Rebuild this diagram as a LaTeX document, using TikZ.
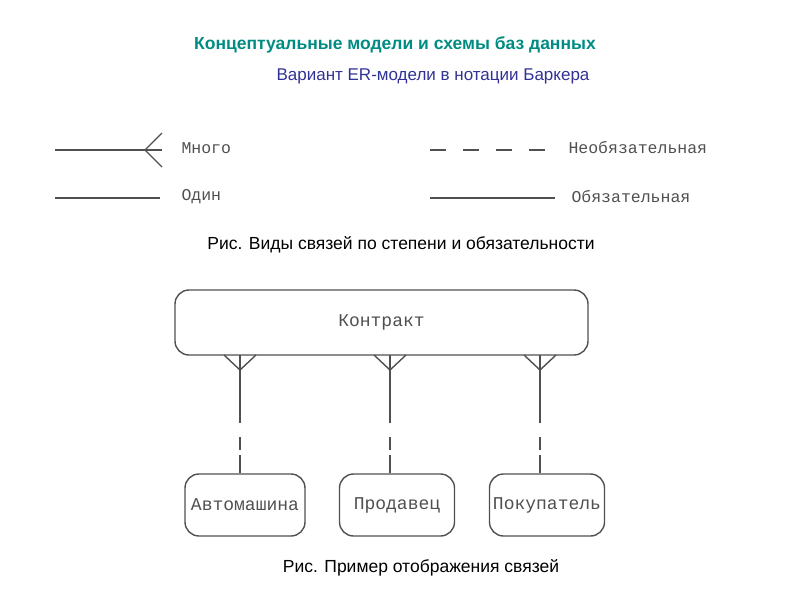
\documentclass[tikz,border=0pt]{standalone}
\usepackage{fontspec}
\setmainfont{Liberation Sans}
\newfontfamily\ermono{Liberation Mono}
\usetikzlibrary{positioning}
\definecolor{titleteal}{RGB}{0,140,130}
\definecolor{subblue}{RGB}{50,50,150}
\definecolor{lineg}{RGB}{80,80,80}
\begin{document}
\begin{tikzpicture}[x=1pt,y=-1pt,
	entity/.style={draw=lineg,line width=1.4pt,rounded corners=14pt,font=\ermono\fontsize{18}{20}\selectfont,text=lineg,inner sep=0pt},
	lbl/.style={font=\ermono\fontsize{16.5}{20}\selectfont,text=lineg,anchor=west},
	rel/.style={lineg,line width=1.4pt},
	figcap/.style={font=\fontsize{17.5}{20}\selectfont}]
		\useasboundingbox (0,0) rectangle (800,600);

		%titles
		\node[font=\fontsize{17.5}{20}\selectfont\bfseries,text=titleteal] (title) at (395,45) {Концептуальные модели и схемы баз данных};
		\node[font=\fontsize{17}{20}\selectfont,text=subblue] (sub) at (433,76) {Вариант ER-модели в нотации Баркера};

		%legend
		\coordinate (l1a) at (55,150); \coordinate (l1b) at (162,150);
		\coordinate (l2a) at (55,198); \coordinate (l2b) at (160,198);
		\coordinate (l3a) at (430,150); \coordinate (l3b) at (555,150);
		\coordinate (l4a) at (430,198); \coordinate (l4b) at (555,198);
		\node[lbl] (many) at (178,148) {Много};
		\node[lbl] (one) at (178,197) {Один};
		\node[lbl] (opt) at (565,148) {Необязательная};
		\node[lbl] (mand) at (568,197) {Обязательная};
		\draw[rel] (l1a) -- (l1b);
		\draw[rel] (162,133) -- (145,150) -- (162,167);
		\draw[rel] (l2a) -- (l2b);
		\draw[rel,dash pattern=on 16pt off 17pt] (l3a) -- (l3b);
		\draw[rel] (l4a) -- (l4b);
		\node[figcap] (cap1) at (401,245) {Рис. Виды связей по степени и обязательности};

		%entities
		\node[entity,minimum width=413pt,minimum height=65pt] (contract) at (381.5,322.5) {Контракт};
		\node[entity,minimum width=120pt,minimum height=62pt] (car) at (245,505) {Автомашина};
		\node[entity,minimum width=115pt,minimum height=62pt] (seller) at (397,505) {Продавец};
		\node[entity,minimum width=115pt,minimum height=62pt] (buyer) at (547,505) {Покупатель};

		%relationships
		\foreach \n/\x in {car/240,seller/390,buyer/540}{
			\draw[rel] (\x-16,355) -- (\x,370) -- (\x+16,355);
			\draw[rel] (\x,355) -- (\x,405);
			\draw[rel,dash pattern=on 18pt off 14pt] (\x,405) -- (\x,450);
			\draw[rel] (\x,455) -- (\n.north -| \x,0);
		}
		\node[figcap] (cap2) at (421,568) {Рис. Пример отображения связей};
\end{tikzpicture}
\end{document}
